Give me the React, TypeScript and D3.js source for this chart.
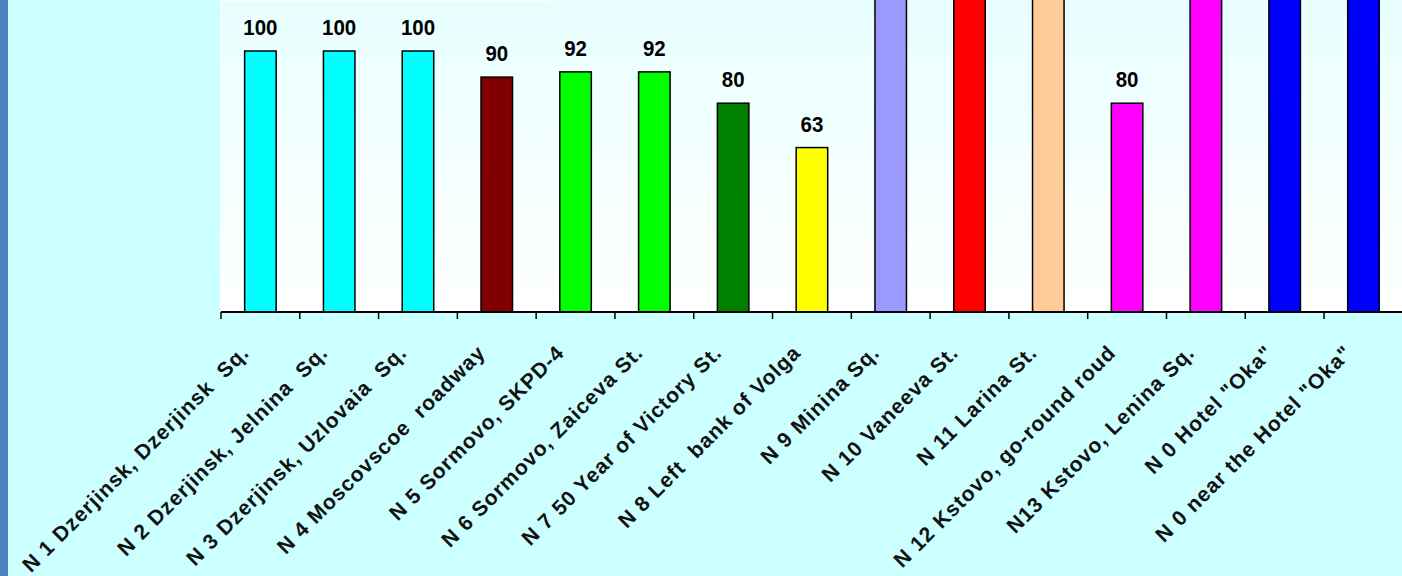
import React from 'react';
import * as d3 from 'd3';

const categories: string[] = [
  'N 1 Dzerjinsk, Dzerjinsk  Sq.',
  'N 2 Dzerjinsk, Jelnina  Sq.',
  'N 3 Dzerjinsk, Uzlovaia  Sq.',
  'N 4 Moscovscoe  roadway',
  'N 5 Sormovo, SKPD-4',
  'N 6 Sormovo, Zaiceva St.',
  'N 7 50 Year of Victory St.',
  'N 8 Left  bank of Volga',
  'N 9 Minina Sq.',
  'N 10 Vaneeva St.',
  'N 11 Larina St.',
  'N 12 Kstovo, go-round roud',
  'N13 Kstovo, Lenina Sq.',
  'N 0 Hotel "Oka"',
  'N 0 near the Hotel "Oka"',
];

// values of bars 9-11 and 13-15 are above the visible frame (estimated)
const values: number[] = [100, 100, 100, 90, 92, 92, 80, 63, 140, 160, 150, 80, 170, 200, 190];

const barColors: string[] = [
  '#00ffff', '#00ffff', '#00ffff', '#800000', '#00ff00', '#00ff00', '#008000',
  '#ffff00', '#9999ff', '#ff0000', '#ffcc99', '#ff00ff', '#ff00ff', '#0000ff', '#0000ff',
];

const W = 1402;
const H = 576;
const plotLeft = 221;
const plotRight = 221 + 15 * 78.79;
const baseY = 312;

export default function App() {
  const x = d3.scaleBand<string>().domain(categories).range([plotLeft, plotRight]).paddingInner(0).paddingOuter(0);
  const y = d3.scaleLinear().domain([0, 100]).range([baseY, 51]);
  const bw = x.bandwidth() * 0.4;
  const font = '"Liberation Sans", Arial, sans-serif';
  const ticks = d3.range(categories.length + 1).map((i) => plotLeft + i * x.step());

  return (
    <svg width={W} height={H} style={{ position: 'absolute', left: 0, top: 0, display: 'block' }}>
      <defs>
        <linearGradient id="plotGrad" x1="0" y1="0" x2="0" y2="1">
          <stop offset="0" stopColor="#e8ffff" />
          <stop offset="1" stopColor="#ffffff" />
        </linearGradient>
        <clipPath id="clip">
          <rect x={0} y={0} width={W} height={H} />
        </clipPath>
      </defs>
      <rect x={0} y={0} width={W} height={H} fill="#ccffff" />
      <rect x={220} y={0} width={W - 220} height={baseY} fill="url(#plotGrad)" />
      <rect x={220} y={0} width={330} height={1.2} fill="#ffffff" />
      <rect x={0} y={0} width={8} height={H} fill="#4f81bd" />
      <g clipPath="url(#clip)">
        {categories.map((c, i) => {
          const cx = (x(c) as number) + x.bandwidth() / 2;
          const top = y(values[i]);
          return (
            <g key={c}>
              <rect x={cx - bw / 2} y={top} width={bw} height={baseY - top} fill={barColors[i]} stroke="#000" strokeWidth={1.5} />
              {top - 34 > 0 && (
                <text
                  transform={`translate(${cx},${top - 16}) scale(0.93,1)`}
                  textAnchor="middle"
                  fontFamily={font}
                  fontWeight="bold"
                  fontSize={22}
                  fill="#000"
                >
                  {values[i]}
                </text>
              )}
            </g>
          );
        })}
      </g>
      <line x1={plotLeft} x2={W} y1={baseY} y2={baseY} stroke="#000" strokeWidth={2} />
      {ticks.map((t, i) => (
        <line key={i} x1={t} x2={t} y1={baseY} y2={baseY + 7} stroke="#000" strokeWidth={1.5} />
      ))}
      {categories.map((c) => {
        const cx = (x(c) as number) + x.bandwidth() / 2;
        return (
          <text
            key={c}
            transform={`translate(${cx - 10},${baseY + 42}) rotate(-45)`}
            textAnchor="end"
            fontFamily={font}
            fontWeight="bold"
            fontSize={21}
            letterSpacing={1}
            fill="#111"
            style={{ whiteSpace: 'pre' }}
          >
            {c}
          </text>
        );
      })}
    </svg>
  );
}
